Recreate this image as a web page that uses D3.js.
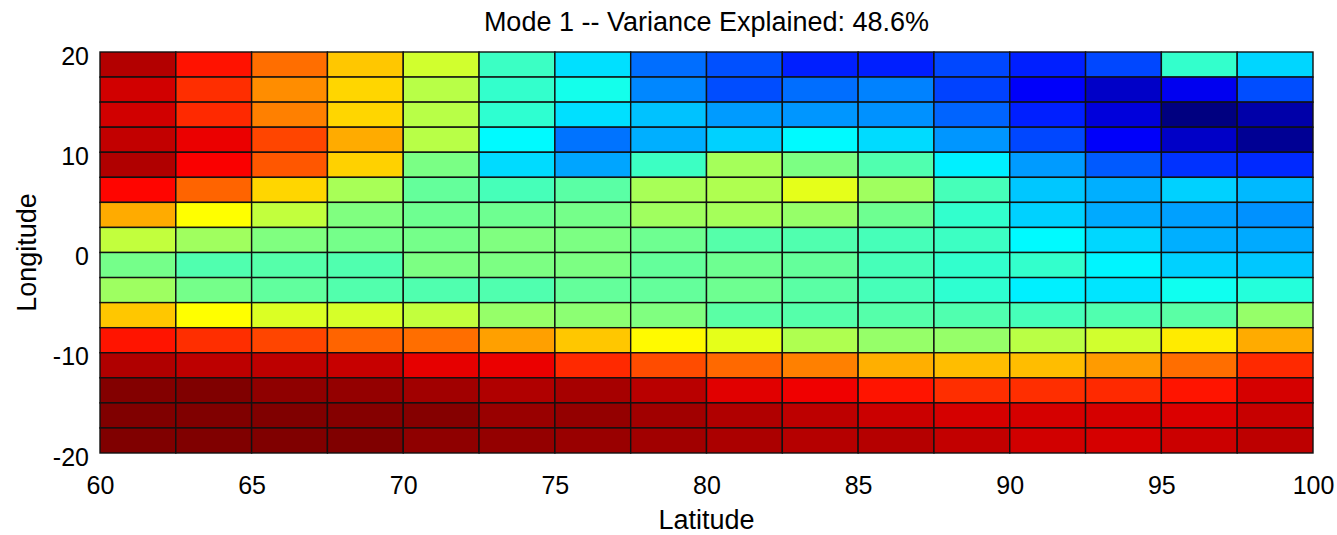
<!DOCTYPE html>
<html>
<head>
<meta charset="utf-8">
<script src="https://cdn.jsdelivr.net/npm/d3@7"></script>
<style>
  html, body { margin: 0; padding: 0; background: #fff; }
  svg { display: block; font-family: "Liberation Sans", Arial, Helvetica, sans-serif; }
</style>
</head>
<body>
<svg id="chart" width="1337" height="535"></svg>
<script>
// Cell centres of the grid (degrees)
const latitudes  = [61.25, 63.75, 66.25, 68.75, 71.25, 73.75, 76.25, 78.75,
                    81.25, 83.75, 86.25, 88.75, 91.25, 93.75, 96.25, 98.75];
const longitudes = [18.75, 16.25, 13.75, 11.25, 8.75, 6.25, 3.75, 1.25,
                    -1.25, -3.75, -6.25, -8.75, -11.25, -13.75, -16.25, -18.75];

// Normalised Mode 1 loadings, one row per longitude (top to bottom)
const loadings = [
  [0.950, 0.857, 0.767, 0.680, 0.580, 0.433, 0.345, 0.233, 0.203, 0.155, 0.155, 0.195, 0.155, 0.195, 0.425, 0.335],
  [0.920, 0.830, 0.737, 0.665, 0.555, 0.425, 0.395, 0.257, 0.200, 0.233, 0.252, 0.190, 0.120, 0.070, 0.110, 0.200],
  [0.920, 0.835, 0.750, 0.665, 0.555, 0.420, 0.345, 0.315, 0.277, 0.272, 0.267, 0.223, 0.155, 0.090, 0.000, 0.040],
  [0.935, 0.895, 0.807, 0.707, 0.555, 0.370, 0.238, 0.297, 0.330, 0.370, 0.340, 0.272, 0.195, 0.120, 0.070, 0.020],
  [0.953, 0.880, 0.790, 0.670, 0.495, 0.340, 0.287, 0.434, 0.537, 0.497, 0.453, 0.360, 0.277, 0.213, 0.174, 0.165],
  [0.870, 0.777, 0.665, 0.540, 0.473, 0.444, 0.463, 0.540, 0.547, 0.600, 0.532, 0.444, 0.320, 0.297, 0.330, 0.306],
  [0.707, 0.625, 0.565, 0.500, 0.483, 0.483, 0.490, 0.532, 0.537, 0.522, 0.483, 0.424, 0.330, 0.292, 0.282, 0.267],
  [0.565, 0.532, 0.500, 0.490, 0.490, 0.500, 0.497, 0.483, 0.458, 0.453, 0.444, 0.434, 0.370, 0.336, 0.297, 0.292],
  [0.490, 0.453, 0.458, 0.453, 0.497, 0.497, 0.497, 0.473, 0.483, 0.473, 0.444, 0.424, 0.425, 0.365, 0.330, 0.320],
  [0.530, 0.490, 0.470, 0.455, 0.453, 0.453, 0.473, 0.473, 0.483, 0.463, 0.444, 0.420, 0.360, 0.350, 0.390, 0.410],
  [0.680, 0.625, 0.590, 0.585, 0.565, 0.522, 0.512, 0.500, 0.463, 0.458, 0.458, 0.453, 0.444, 0.453, 0.463, 0.522],
  [0.855, 0.830, 0.807, 0.777, 0.767, 0.718, 0.680, 0.630, 0.600, 0.547, 0.522, 0.522, 0.557, 0.580, 0.645, 0.707],
  [0.953, 0.940, 0.940, 0.930, 0.900, 0.895, 0.835, 0.800, 0.772, 0.750, 0.703, 0.690, 0.690, 0.723, 0.767, 0.835],
  [0.997, 1.000, 0.985, 0.980, 0.968, 0.953, 0.963, 0.944, 0.905, 0.890, 0.855, 0.830, 0.830, 0.835, 0.855, 0.916],
  [1.000, 1.000, 1.000, 0.995, 0.995, 0.975, 0.980, 0.968, 0.953, 0.940, 0.926, 0.916, 0.916, 0.916, 0.910, 0.930],
  [1.000, 1.000, 1.000, 1.000, 0.985, 0.980, 0.975, 0.968, 0.958, 0.948, 0.948, 0.935, 0.920, 0.916, 0.926, 0.940]
];

const xTicks = [60, 65, 70, 75, 80, 85, 90, 95, 100];
const yTicks = [-20, -10, 0, 10, 20];
const cellSize = 2.5;

const titleText = "Mode 1 -- Variance Explained: 48.6%";
const xLabel = "Latitude";
const yLabel = "Longitude";

// Plot frame
const plot = { left: 100, top: 52, right: 1313, bottom: 453 };

const svg = d3.select("#chart");

const x = d3.scaleLinear().domain([60, 100]).range([plot.left, plot.right]);
const y = d3.scaleLinear().domain([-20, 20]).range([plot.bottom, plot.top]);

// Jet colormap
const jet = d3.scaleLinear()
  .domain([0, 0.125, 0.375, 0.625, 0.875, 1])
  .range(["#000080", "#0000ff", "#00ffff", "#ffff00", "#ff0000", "#800000"])
  .clamp(true);

const cells = [];
loadings.forEach((row, r) => {
  row.forEach((v, c) => {
    cells.push({ lat: latitudes[c], lon: longitudes[r], value: v });
  });
});

svg.append("g")
  .selectAll("rect")
  .data(cells)
  .join("rect")
  .attr("x", d => x(d.lat - cellSize / 2))
  .attr("y", d => y(d.lon + cellSize / 2))
  .attr("width", d => x(d.lat + cellSize / 2) - x(d.lat - cellSize / 2))
  .attr("height", d => y(d.lon - cellSize / 2) - y(d.lon + cellSize / 2))
  .attr("fill", d => jet(d.value))
  .attr("stroke", "#111")
  .attr("stroke-width", 1.4);

// Axes (labels only; tick marks sit beneath the cells)
const plainFormat = d => String(d);
const xAxis = d3.axisBottom(x).tickValues(xTicks).tickFormat(plainFormat).tickSize(0).tickPadding(23);
const yAxis = d3.axisLeft(y).tickValues(yTicks).tickFormat(plainFormat).tickSize(0).tickPadding(11);

const gx = svg.append("g").attr("transform", `translate(0,${plot.bottom})`).call(xAxis);
const gy = svg.append("g").attr("transform", `translate(${plot.left},0)`).call(yAxis);

[gx, gy].forEach(g => {
  g.select(".domain").remove();
  g.selectAll("text")
    .attr("font-size", 25)
    .attr("fill", "#000")
    .attr("font-family", "'Liberation Sans', Arial, sans-serif");
});
gy.selectAll("text").attr("dy", "0.48em");

// Titles
svg.append("text")
  .attr("x", (plot.left + plot.right) / 2)
  .attr("y", 31)
  .attr("text-anchor", "middle")
  .attr("font-size", 27)
  .text(titleText);

svg.append("text")
  .attr("x", (plot.left + plot.right) / 2)
  .attr("y", 529)
  .attr("text-anchor", "middle")
  .attr("font-size", 27)
  .text(xLabel);

svg.append("text")
  .attr("transform", `translate(36,${(plot.top + plot.bottom) / 2}) rotate(-90)`)
  .attr("text-anchor", "middle")
  .attr("font-size", 27)
  .text(yLabel);
</script>
</body>
</html>
